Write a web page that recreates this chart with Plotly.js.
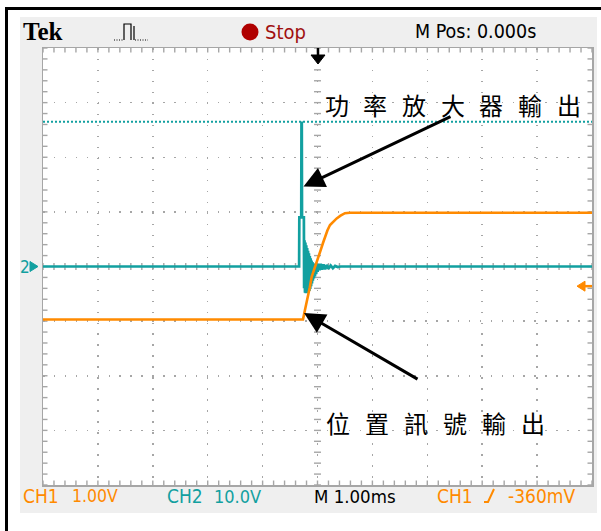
<!DOCTYPE html>
<html>
<head>
<meta charset="utf-8">
<script src="https://cdn.plot.ly/plotly-3.0.1.min.js"></script>
<style>html,body{margin:0;padding:0;background:#fff;}#chart{width:601px;height:531px;}</style>
</head>
<body>
<div id="chart"></div>
<script>
// ---- data (CH1: volts @ 1 V/div, CH2: volts @ 10 V/div, time in ms) ----
const ch1Time = [-5, -0.264, -0.24, -0.2, -0.17, -0.14, -0.106, -0.06, -0.015, 0.02, 0.058, 0.1, 0.137, 0.18, 0.228, 0.29, 0.35, 0.42, 0.5, 0.59, 5];
const ch1Volts = [-0.97, -0.97, -0.85, -0.68, -0.55, -0.38, -0.19, -0.06, 0.06, 0.18, 0.30, 0.43, 0.55, 0.66, 0.76, 0.83, 0.88, 0.93, 0.975, 0.985, 0.985];

const ch2Time = [-5, -0.335, -0.331, -0.296, -0.292, -0.286, -0.282, -0.248,
  -0.244, -0.236, -0.228, -0.22, -0.212, -0.204, -0.196, -0.188, -0.18, -0.172,
  -0.164, -0.156, -0.148, -0.14, -0.132, -0.124, -0.116, -0.108, -0.1, -0.092,
  -0.084, -0.076, -0.066, -0.056, -0.046, -0.036, -0.024, -0.012, 0.002, 0.02,
  0.04, 0.06, 0.085, 0.11, 0.14, 0.17, 0.2, 0.24, 0.28, 0.32, 0.37, 0.42, 5];
const ch2Volts = [0, 0, 9, 9, 26.3, 26.3, 9, 9,
  -4.0, 4.8, -4.8, 4.4, -4.9, 3.9, -4.9, 3.4, -4.8, 2.9,
  -4.7, 2.4, -4.5, 1.9, -4.1, 1.5, -3.6, 1.1, -3.1, 0.8,
  -2.6, 0.6, -2.2, 0.5, -1.8, 0.4, -1.4, 0.4, -1.0, 0.5,
  -0.7, 0.5, -0.6, 0.4, -0.5, 0.3, -0.4, 0.2, -0.3, 0.1, -0.1, 0, 0];

const ch2LimitTime = [-5, 5];
const ch2LimitVolts = [26.5, 26.5];

const ch1VoltsPerDiv = 1.0;
const ch2VoltsPerDiv = 10.0;
const ch1TriggerVolts = -0.36;

const headerTek = "Tek";
const headerStop = "Stop";
const headerMPos = "M Pos: 0.000s";
const footerCh1 = ["CH1", "1.00V"];
const footerCh2 = ["CH2", "10.0V"];
const footerTime = "M 1.00ms";
const footerTrig = ["CH1", "-360mV"];
const labelAmp = "功率放大器輸出";
const labelPos = "位置訊號輸出";

// ---- styling / geometry ----
const TEAL = '#12a0a0', ORANGE = '#ff8a00', GRID = '#a6a6a6';
const L = 43, R = 592, T = 48, B = 485;
const px = x => (x - L) / (R - L);
const py = y => (B - y) / (B - T);
const NARROW = '"Liberation Sans Narrow", "DejaVu Sans Condensed", "Liberation Sans", sans-serif';
const XPX = (R - L) / 10, YPX = (B - T) / 8;   // pixels per division

const traces = [
  {x: ch2LimitTime, y: ch2LimitVolts.map(v => v / ch2VoltsPerDiv), mode: 'lines',
   line: {color: TEAL, width: 2, dash: '2px,2px'}, hoverinfo: 'skip'},
  {x: ch2Time, y: ch2Volts.map(v => v / ch2VoltsPerDiv), mode: 'lines',
   line: {color: TEAL, width: 2.7}, hoverinfo: 'skip'},
  {x: ch1Time, y: ch1Volts.map(v => v / ch1VoltsPerDiv), mode: 'lines',
   line: {color: ORANGE, width: 2.6}, hoverinfo: 'skip'}
];

const shapes = [];
// gray instrument panel (with hole for the graticule)
const o = {x0: px(20), x1: px(597), y0: py(513), y1: py(17)};
shapes.push({type: 'path', xref: 'paper', yref: 'paper', layer: 'below', fillrule: 'evenodd',
  path: `M${o.x0},${o.y0} L${o.x1},${o.y0} L${o.x1},${o.y1} L${o.x0},${o.y1} Z M0,0 L1,0 L1,1 L0,1 Z`,
  fillcolor: '#efefef', line: {width: 0}});
// black frame lines
shapes.push({type: 'line', xref: 'paper', yref: 'paper', x0: px(6.5), x1: px(6.5), y0: py(8.5), y1: py(531), line: {color: '#000', width: 3}});
shapes.push({type: 'line', xref: 'paper', yref: 'paper', x0: px(5), x1: px(601), y0: py(8.5), y1: py(8.5), line: {color: '#000', width: 3}});
// center crosshair ticks and border ticks (every 1/5 division)
const hx = 3.5 / XPX, hy = 3.5 / YPX, bx = 4.5 / XPX, by = 4.5 / YPX;
const tk = (x0, x1, y0, y1) => shapes.push({type: 'line', xref: 'x', yref: 'y', layer: 'below',
  x0: x0, x1: x1, y0: y0, y1: y1, line: {color: GRID, width: 1.4}});
for (let k = 0; k <= 40; k++) {
  const y = -4 + 0.2 * k;
  tk(-hx, hx, y, y);
  tk(-5, -5 + bx, y, y);
  tk(5 - bx, 5, y, y);
}
for (let k = 0; k <= 50; k++) {
  const x = -5 + 0.2 * k;
  tk(x, x, -hy, hy);
  tk(x, x, 4 - by, 4);
  tk(x, x, -4, -4 + by);
}
// trigger position marker (top, black down arrow)
shapes.push({type: 'line', xref: 'paper', yref: 'paper', x0: px(318), x1: px(318), y0: py(48), y1: py(58), line: {color: '#000', width: 2.5}});
shapes.push({type: 'path', xref: 'paper', yref: 'paper',
  path: `M${px(311)},${py(55)} L${px(325)},${py(55)} L${px(318)},${py(64)} Z`, fillcolor: '#000', line: {color: '#000', width: 1}});
// trigger level marker (right, orange left arrow)
const trigY = py(266.5 - ch1TriggerVolts / ch1VoltsPerDiv * YPX);
shapes.push({type: 'path', xref: 'paper', yref: 'paper',
  path: `M${px(577)},${trigY} L${px(585)},${trigY + 5/437} L${px(585)},${trigY - 5/437} Z`, fillcolor: ORANGE, line: {color: ORANGE, width: 1}});
shapes.push({type: 'line', xref: 'paper', yref: 'paper', x0: px(584), x1: px(592), y0: trigY, y1: trigY, line: {color: ORANGE, width: 2.5}});
// CH2 ground marker arrow (left)
shapes.push({type: 'path', xref: 'paper', yref: 'paper',
  path: `M${px(30)},${py(261.5)} L${px(38)},${py(266.5)} L${px(30)},${py(271.5)} Z`, fillcolor: TEAL, line: {color: TEAL, width: 1}});
// acquisition icon
shapes.push({type: 'path', xref: 'paper', yref: 'paper',
  path: `M${px(124)},${py(40)} L${px(124)},${py(24)} L${px(131)},${py(24)} L${px(131)},${py(40)} M${px(134)},${py(40)} L${px(134)},${py(26)}`,
  line: {color: '#000', width: 1.2}});
shapes.push({type: 'path', xref: 'paper', yref: 'paper',
  path: `M${px(114)},${py(40)} L${px(123)},${py(40)} M${px(135)},${py(40)} L${px(148)},${py(40)}`,
  line: {color: '#000', width: 1.2, dash: '1px,1.5px'}});
// red stop dot
shapes.push({type: 'circle', xref: 'paper', yref: 'paper', x0: px(241.5), x1: px(258.5), y0: py(40.5), y1: py(23.5), fillcolor: '#b00000', line: {width: 0}});
// trigger slope glyph
shapes.push({type: 'path', xref: 'paper', yref: 'paper',
  path: `M${px(484)},${py(502)} L${px(488)},${py(502)} L${px(494)},${py(489)}`, line: {color: ORANGE, width: 2}});

const annotations = [];
function txt(text, x, y, size, color, family, anchor, weight) {
  annotations.push({text: text, xref: 'paper', yref: 'paper', x: px(x), y: py(y),
    xanchor: anchor || 'left', yanchor: 'middle', showarrow: false,
    font: {size: size, color: color, family: family, weight: weight || 'normal'}});
}
txt(headerTek, 21, 32, 25, '#000', '"Liberation Serif", serif', 'left', 'bold');
txt(headerStop, 263, 32, 20, '#a01010', NARROW);
txt(headerMPos, 413, 32, 19.5, '#000', NARROW);
txt(footerCh1[0], 21, 496, 19, ORANGE, NARROW);
txt(footerCh1[1], 70, 496, 17.5, ORANGE, NARROW);
txt(footerCh2[0], 165, 496, 19, TEAL, NARROW);
txt(footerCh2[1], 212, 496, 18, TEAL, NARROW);
txt(footerTime, 312, 496, 18.5, '#000', NARROW);
txt(footerTrig[0], 435, 496, 19, ORANGE, NARROW);
txt(footerTrig[1], 506, 496, 19, ORANGE, NARROW);
txt('2', 25, 266.5, 17, TEAL, NARROW, 'center');

// Chinese labels, letter-spaced like the original
Array.from(labelAmp).forEach((ch, i) => txt(ch, 336.5 + i * 38.7, 104, 24, '#000', '"Noto Sans CJK TC", sans-serif', 'center'));
Array.from(labelPos).forEach((ch, i) => txt(ch, 337.5 + i * 39, 422, 24, '#000', '"Noto Sans CJK TC", sans-serif', 'center'));

// pointer arrows
annotations.push({xref: 'paper', yref: 'paper', x: px(303.5), y: py(186.5), ax: 452 - 303.5, ay: 116 - 186.5,
  text: '', showarrow: true, arrowhead: 2, arrowsize: 1.4, arrowwidth: 3, arrowcolor: '#000'});
annotations.push({xref: 'paper', yref: 'paper', x: px(304), y: py(313), ax: 419 - 304, ay: 380 - 313,
  text: '', showarrow: true, arrowhead: 2, arrowsize: 1.4, arrowwidth: 3, arrowcolor: '#000'});

const axisCommon = {
  showgrid: true, gridcolor: GRID, gridwidth: 1.5, zeroline: false, showticklabels: false,
  ticks: '', showline: true, linecolor: GRID, linewidth: 1.5, mirror: true, fixedrange: true
};
const layout = {
  width: 601, height: 531,
  margin: {l: L, r: 601 - R, t: T, b: 531 - B, pad: 0},
  paper_bgcolor: '#ffffff', plot_bgcolor: '#ffffff', showlegend: false,
  xaxis: Object.assign({}, axisCommon, {range: [-5, 5], dtick: 1, tick0: 0, griddash: '1.5px,9.48px'}),
  yaxis: Object.assign({}, axisCommon, {range: [-4, 4], dtick: 1, tick0: 0, griddash: '1.5px,9.42px'}),
  shapes: shapes, annotations: annotations
};
Plotly.newPlot('chart', traces, layout, {displayModeBar: false, staticPlot: true});
</script>
</body>
</html>
